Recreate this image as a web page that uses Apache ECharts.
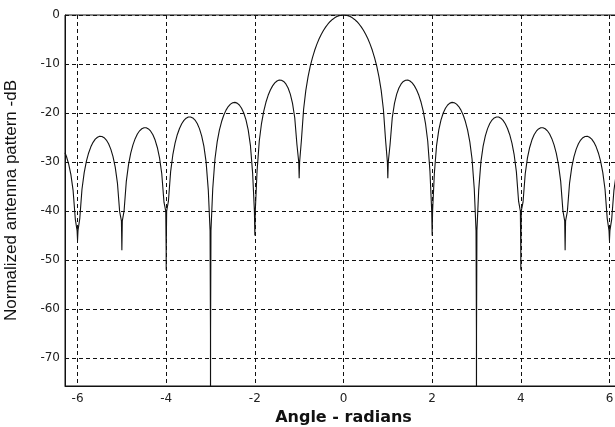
<!DOCTYPE html>
<html>
<head>
<meta charset="utf-8">
<script src="https://cdn.jsdelivr.net/npm/echarts@6/dist/echarts.min.js"></script>
<style>
html,body{margin:0;padding:0;background:#fff;}
#c{width:615px;height:427px;}
</style>
</head>
<body>
<div id="c"></div>
<script>
// Angle (radians) sampled along the curve
var angle = [
 -6.283,-6.25,-6.2,-6.15,-6.1,-6.05,-6.01,-6.0,-5.99,-5.95,-5.9,-5.85,-5.8,-5.75,-5.7,-5.65,-5.6,-5.55,-5.5,-5.45,-5.4,-5.35,-5.3,-5.25,-5.2,-5.15,-5.1,-5.05,-5.01,-5.0,
 -4.99,-4.95,-4.9,-4.85,-4.8,-4.75,-4.7,-4.65,-4.6,-4.55,-4.5,-4.45,-4.4,-4.35,-4.3,-4.25,-4.2,-4.15,-4.1,-4.05,-4.01,-4.001,-4.0,
 -3.999,-3.99,-3.95,-3.9,-3.85,-3.8,-3.75,-3.7,-3.65,-3.6,-3.55,-3.5,-3.45,-3.4,-3.35,-3.3,-3.25,-3.2,-3.15,-3.1,-3.05,-3.01,-3.001,-3.0,
 -2.999,-2.99,-2.95,-2.9,-2.85,-2.8,-2.75,-2.7,-2.65,-2.6,-2.55,-2.5,-2.45,-2.4,-2.35,-2.3,-2.25,-2.2,-2.15,-2.1,-2.05,-2.01,-2.0,
 -1.99,-1.95,-1.9,-1.85,-1.8,-1.75,-1.7,-1.65,-1.6,-1.55,-1.5,-1.45,-1.4,-1.35,-1.3,-1.25,-1.2,-1.15,-1.1,-1.05,-1.01,-1.0,
 -0.99,-0.95,-0.9,-0.85,-0.8,-0.75,-0.7,-0.65,-0.6,-0.55,-0.5,-0.45,-0.4,-0.35,-0.3,-0.25,-0.2,-0.15,-0.1,-0.05,0,
 0.05,0.1,0.15,0.2,0.25,0.3,0.35,0.4,0.45,0.5,0.55,0.6,0.65,0.7,0.75,0.8,0.85,0.9,0.95,0.99,
 1.0,1.01,1.05,1.1,1.15,1.2,1.25,1.3,1.35,1.4,1.45,1.5,1.55,1.6,1.65,1.7,1.75,1.8,1.85,1.9,1.95,1.99,
 2.0,2.01,2.05,2.1,2.15,2.2,2.25,2.3,2.35,2.4,2.45,2.5,2.55,2.6,2.65,2.7,2.75,2.8,2.85,2.9,2.95,2.99,2.999,
 3.0,3.001,3.01,3.05,3.1,3.15,3.2,3.25,3.3,3.35,3.4,3.45,3.5,3.55,3.6,3.65,3.7,3.75,3.8,3.85,3.9,3.95,3.99,3.999,
 4.0,4.001,4.01,4.05,4.1,4.15,4.2,4.25,4.3,4.35,4.4,4.45,4.5,4.55,4.6,4.65,4.7,4.75,4.8,4.85,4.9,4.95,4.99,
 5.0,5.01,5.05,5.1,5.15,5.2,5.25,5.3,5.35,5.4,5.45,5.5,5.55,5.6,5.65,5.7,5.75,5.8,5.85,5.9,5.95,5.99,6.0,6.01,6.05,6.1,6.15,6.2,6.25,6.283
];
// Normalized pattern (dB)
var gainDb = [
 -28.10,-28.87,-30.41,-32.58,-35.85,-41.69,-44,-46,-44,-41.54,-35.56,-32.15,-29.83,-28.15,-26.90,-25.98,-25.34,-24.94,-24.75,-24.78,-25.03,-25.51,-26.27,-27.36,-28.88,-31.04,-34.29,-40.12,-42,-48,
 -42,-39.95,-33.95,-30.52,-28.19,-26.49,-25.23,-24.29,-23.63,-23.21,-23.01,-23.02,-23.25,-23.71,-24.45,-25.52,-27.03,-29.16,-32.40,-38.20,-40,-48,-52,
 -48,-40,-37.99,-31.96,-28.51,-26.16,-24.43,-23.15,-22.19,-21.51,-21.06,-20.82,-20.81,-21.01,-21.44,-22.15,-23.19,-24.67,-26.77,-29.97,-35.74,-44,-65,-150,
 -65,-44,-35.45,-29.39,-25.90,-23.51,-21.74,-20.41,-19.41,-18.68,-18.18,-17.90,-17.83,-17.98,-18.36,-19.02,-20.00,-21.41,-23.45,-26.59,-32.29,-40,-45,
 -40,-31.85,-25.72,-22.15,-19.67,-17.81,-16.39,-15.29,-14.46,-13.86,-13.47,-13.28,-13.30,-13.55,-14.06,-14.89,-16.15,-18.02,-20.97,-26.48,-30,-33.3,
 -30,-25.61,-19.23,-15.39,-12.62,-10.45,-8.68,-7.20,-5.94,-4.86,-3.92,-3.11,-2.42,-1.83,-1.32,-0.91,-0.58,-0.32,-0.14,-0.04,0,
 -0.04,-0.14,-0.32,-0.58,-0.91,-1.32,-1.83,-2.42,-3.11,-3.92,-4.86,-5.94,-7.20,-8.68,-10.45,-12.62,-15.39,-19.23,-25.61,-30,
 -33.3,-30,-26.48,-20.97,-18.02,-16.15,-14.89,-14.06,-13.55,-13.30,-13.28,-13.47,-13.86,-14.46,-15.29,-16.39,-17.81,-19.67,-22.15,-25.72,-31.85,-40,
 -45,-40,-32.29,-26.59,-23.45,-21.41,-20.00,-19.02,-18.36,-17.98,-17.83,-17.90,-18.18,-18.68,-19.41,-20.41,-21.74,-23.51,-25.90,-29.39,-35.45,-44,-65,
 -150,-65,-44,-35.74,-29.97,-26.77,-24.67,-23.19,-22.15,-21.44,-21.01,-20.81,-20.82,-21.06,-21.51,-22.19,-23.15,-24.43,-26.16,-28.51,-31.96,-37.99,-40,-48,
 -52,-48,-40,-38.20,-32.40,-29.16,-27.03,-25.52,-24.45,-23.71,-23.25,-23.02,-23.01,-23.21,-23.63,-24.29,-25.23,-26.49,-28.19,-30.52,-33.95,-39.95,-42,
 -48,-42,-40.12,-34.29,-31.04,-28.88,-27.36,-26.27,-25.51,-25.03,-24.78,-24.75,-24.94,-25.34,-25.98,-26.90,-28.15,-29.83,-32.15,-35.56,-41.54,-44,-46,-44,-41.69,-35.85,-32.58,-30.41,-28.87,-28.10
];
var xTicks = [-6,-4,-2,0,2,4,6];
var yTicks = [0,-10,-20,-30,-40,-50,-60,-70];

var n = Math.min(angle.length, gainDb.length);
var pts = [];
for (var i = 0; i < n; i++) pts.push([angle[i], gainDb[i]]);

var chart = echarts.init(document.getElementById('c'), null, {renderer:'canvas'});
var labelStyle = {color:'#222', fontFamily:'DejaVu Sans', fontSize:12};
chart.setOption({
  animation:false,
  backgroundColor:'#fff',
  grid:{left:65, top:15, width:557, height:371, show:true, borderColor:'#111', borderWidth:1,
        containLabel:false, outerBoundsMode:'none'},
  xAxis:{
    type:'value', min:-6.283, max:6.283, splitNumber:6,
    name:'Angle - radians', nameLocation:'middle', nameGap:21,
    nameTextStyle:{color:'#111', fontFamily:'DejaVu Sans', fontWeight:'bold', fontSize:16},
    axisLine:{show:true, onZero:false, lineStyle:{color:'#111', width:1}},
    axisTick:{show:false},
    axisLabel:Object.assign({margin:7, formatter:function(v){return xTicks.indexOf(Math.round(v*1000)/1000)>=0 ? String(v) : '';}}, labelStyle),
    splitLine:{show:true, lineStyle:{color:'#111', width:1, type:[4,3]}}
  },
  yAxis:{
    type:'value', min:-75.7, max:0, splitNumber:8,
    name:'Normalized antenna pattern -dB', nameLocation:'middle', nameGap:45,
    nameTextStyle:{color:'#111', fontFamily:'Liberation Sans', fontSize:17},
    axisLine:{show:true, onZero:false, lineStyle:{color:'#111', width:1}},
    axisTick:{show:false},
    axisLabel:Object.assign({margin:5, formatter:function(v){return yTicks.indexOf(Math.round(v*1000)/1000)>=0 ? String(v) : '';}}, labelStyle),
    splitLine:{show:true, lineStyle:{color:'#111', width:1, type:[4,3]}}
  },
  series:[{
    type:'line', data:pts, showSymbol:false, symbol:'none', clip:true,
    lineStyle:{color:'#111', width:1.1}
  }]
});
</script>
</body>
</html>
